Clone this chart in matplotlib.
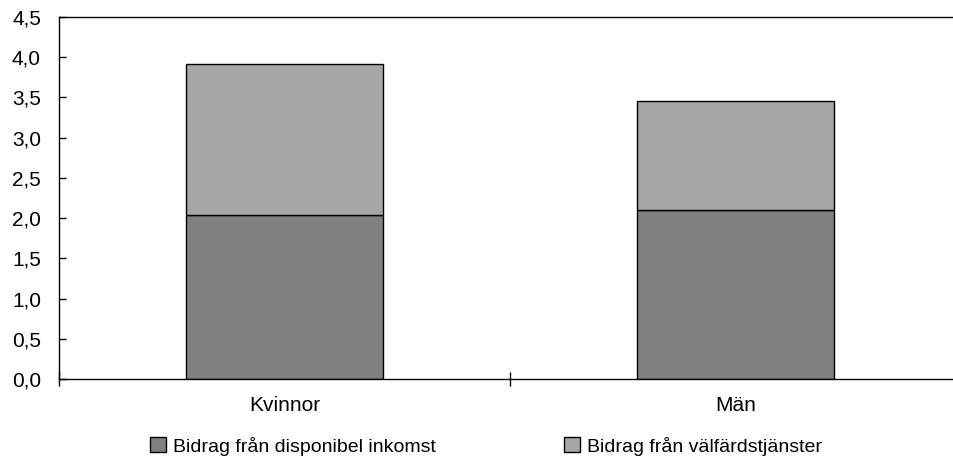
import matplotlib
matplotlib.use("Agg")
import matplotlib.pyplot as plt
from matplotlib.patches import Patch
from matplotlib.ticker import FuncFormatter, FixedLocator

categories = ["Kvinnor", "Män"]
disponibel = [2.04, 2.10]
valfard = [1.88, 1.35]
series_labels = ["Bidrag från disponibel inkomst", "Bidrag från välfärdstjänster"]
yticks = [0.0, 0.5, 1.0, 1.5, 2.0, 2.5, 3.0, 3.5, 4.0, 4.5]

plt.rcParams['font.family'] = ['Liberation Sans', 'DejaVu Sans']

W, H = 954, 461
fig = plt.figure(figsize=(W/100, H/100), dpi=100)
left, right, top, bottom = 59, 961, 17, 379
ax = fig.add_axes([left/W, 1-bottom/H, (right-left)/W, (bottom-top)/H])

x = list(range(len(categories)))
c1, c2 = "#808080", "#a6a6a6"
ax.bar(x, disponibel, width=0.435, color=c1, edgecolor="black", linewidth=1.0)
ax.bar(x, valfard, bottom=disponibel, width=0.435, color=c2, edgecolor="black", linewidth=1.0)

ax.set_xlim(-0.5, 1.5)
ax.set_ylim(0, 4.5)
ax.set_yticks(yticks)
ax.yaxis.set_major_formatter(FuncFormatter(lambda v, p: f"{v:.1f}".replace(".", ",")))
ax.tick_params(axis='y', direction='in', length=5, labelsize=15, pad=13, width=1)
ax.xaxis.set_major_locator(FixedLocator([-0.5, 0.5, 1.5]))
ax.xaxis.set_major_formatter(FuncFormatter(lambda v, p: ""))
ax.xaxis.set_minor_locator(FixedLocator(x))
ax.set_xticklabels(categories, minor=True)
ax.tick_params(axis='x', which='major', direction='inout', length=10, width=1)
ax.tick_params(axis='x', which='minor', length=0, labelsize=15, pad=12)
ax.spines['right'].set_visible(False)
for s in ['left', 'top', 'bottom']:
    ax.spines[s].set_linewidth(1.0)

handles = [Patch(facecolor=c1, edgecolor="black", linewidth=1.0),
           Patch(facecolor=c2, edgecolor="black", linewidth=1.0)]
fig.legend(handles, series_labels, loc='center', bbox_to_anchor=(486/W, 1-446/H),
           ncol=2, frameon=False, fontsize=14, handlelength=0.82, handleheight=0.82,
           handletextpad=0.36, columnspacing=6.55)

fig.savefig("out.png", dpi=100)
